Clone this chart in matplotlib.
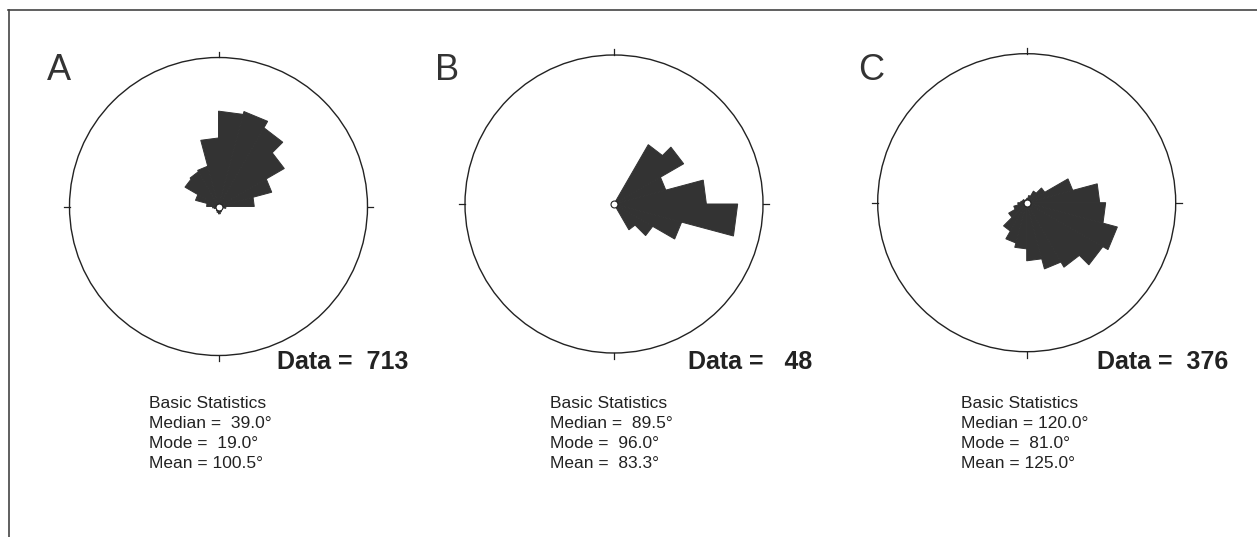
import numpy as np
import matplotlib
matplotlib.use("Agg")
from matplotlib import pyplot as plt
from matplotlib.patches import Circle
from matplotlib.lines import Line2D

plt.rcParams['font.family'] = ['Liberation Sans', 'DejaVu Sans']

# petal lengths, % of the outer circle radius, 15 deg bins clockwise from north
bin_start = np.arange(0, 360, 15)
rose_a = [64, 66, 61, 51, 37, 24, 5, 3, 2, 3, 4, 5,
          4, 3, 2, 2, 3, 4, 8, 16, 26, 27, 28, 46]
rose_b = [0, 0, 46, 54, 36, 62, 83, 47, 30, 20, 0, 0,
          0, 0, 0, 0, 0, 0, 0, 0, 0, 0, 0, 0]
rose_c = [3, 5, 9, 14, 32, 49, 53, 63, 59, 50, 46, 39,
          31, 28, 22, 14, 9, 6, 4, 3, 3, 2, 2, 2]

labels = ["A", "B", "C"]
n_data = ["713", "48", "376"]
medians = ["39.0", "89.5", "120.0"]
modes = ["19.0", "96.0", "81.0"]
means = ["100.5", "83.3", "125.0"]

W, H = 1257, 537
fig = plt.figure(figsize=(W / 100, H / 100), dpi=100)

def fx(x):
    return x / W

def fy(y):
    return 1 - y / H

# frame (left and top edges of the scanned box)
fig.add_artist(Line2D([fx(8.5), fx(8.5)], [fy(10), fy(537)], color='#444444', lw=1.2))
fig.add_artist(Line2D([fx(8), fx(1257)], [fy(10), fy(10)], color='#444444', lw=1.2))

centers = [(218.5, 206.5), (614, 204), (1026.7, 202.7)]
rad_px = 149.0
lim = 115.0
side = 2 * lim / 100 * rad_px

for k, vals in enumerate([rose_a, rose_b, rose_c]):
    cx, cy = centers[k]
    ax = fig.add_axes([fx(cx - side / 2), fy(cy + side / 2), side / W, side / H])
    ax.set_xlim(-lim, lim)
    ax.set_ylim(-lim, lim)
    ax.set_aspect('equal')
    ax.axis('off')

    for th0, L in zip(bin_start, vals):
        if L <= 0:
            continue
        t = np.radians([th0, th0 + 15])
        xs = [0, L * np.sin(t[0]), L * np.sin(t[1])]
        ys = [0, L * np.cos(t[0]), L * np.cos(t[1])]
        ax.fill(xs, ys, facecolor='#333333', edgecolor='#333333', lw=0.7)

    ax.add_patch(Circle((0, 0), 100, fill=False, ec='#222222', lw=1.0))
    for a in [0, 90, 180, 270]:
        s, c = np.sin(np.radians(a)), np.cos(np.radians(a))
        ax.plot([100 * s, 104 * s], [100 * c, 104 * c], color='#222222', lw=0.9)
    ax.plot(0, 0, 'o', ms=5, mfc='white', mec='#222222', mew=0.8)

# panel letters
for x, lab in zip([47, 435, 858], labels):
    fig.text(fx(x), fy(80), lab, fontsize=26, color='#333333', va='baseline', ha='left')

# data counts
for x, n in zip([408, 812, 1228], n_data):
    fig.text(fx(x), fy(369), "Data = %4s" % n, fontsize=18, fontweight='bold',
             color='#222222', va='baseline', ha='right')

# statistics blocks
for x, md, mo, me in zip([149, 550, 961], medians, modes, means):
    lines = ["Basic Statistics",
             "Median = %5s\u00b0" % md,
             "Mode = %5s\u00b0" % mo,
             "Mean = %5s\u00b0" % me]
    for j, s in enumerate(lines):
        fig.text(fx(x), fy(408 + 20 * j), s, fontsize=12.5, color='#222222',
                 va='baseline', ha='left')

fig.savefig("out.png", dpi=100)
